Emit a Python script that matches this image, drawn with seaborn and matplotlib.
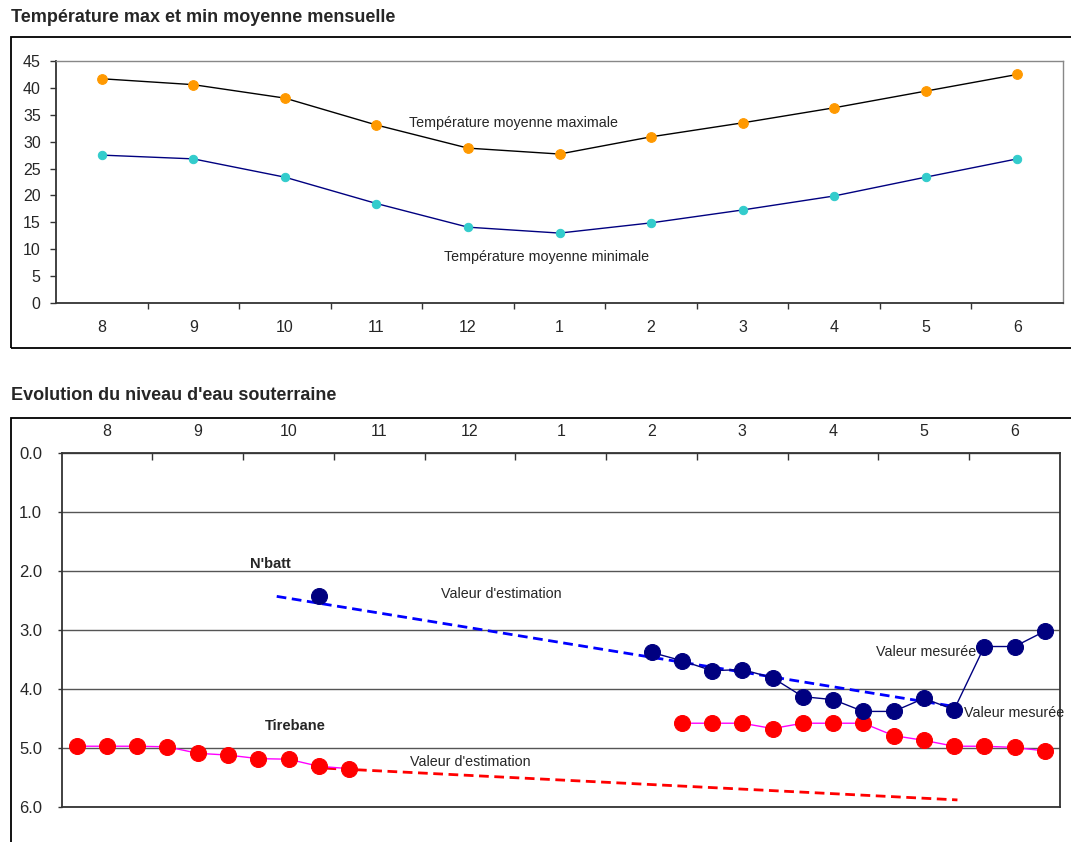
import matplotlib
matplotlib.use("Agg")
import matplotlib.pyplot as plt
from matplotlib.patches import Rectangle
from matplotlib.ticker import FixedLocator, NullFormatter
import numpy as np
import pandas as pd
import seaborn as sns

# ---- data -------------------------------------------------------------
months = ["8", "9", "10", "11", "12", "1", "2", "3", "4", "5", "6"]
temp_max = [41.7, 40.6, 38.1, 33.1, 28.8, 27.7, 30.9, 33.5, 36.3, 39.4, 42.5]
temp_min = [27.5, 26.8, 23.4, 18.5, 14.1, 13.0, 14.9, 17.3, 19.9, 23.4, 26.8]

# groundwater depth (m), sampled every dekad (index 0 = first dekad of month 8)
tirebane_dekad_a = [0, 1, 2, 3, 4, 5, 6, 7, 8, 9]
tirebane_level_a = [4.97, 4.97, 4.97, 4.98, 5.09, 5.12, 5.18, 5.19, 5.31, 5.35]
tirebane_dekad_b = [20, 21, 22, 23, 24, 25, 26, 27, 28, 29, 30, 31, 32]
tirebane_level_b = [4.58, 4.58, 4.58, 4.67, 4.58, 4.58, 4.58, 4.79, 4.87,
                    4.97, 4.97, 4.99, 5.05]

nbatt_dekad_a = [8]
nbatt_level_a = [2.43]
nbatt_dekad_b = [19, 20, 21, 22, 23, 24, 25, 26, 27, 28, 29, 30, 31, 32]
nbatt_level_b = [3.38, 3.52, 3.69, 3.67, 3.81, 4.13, 4.18, 4.38, 4.38,
                 4.16, 4.35, 3.28, 3.28, 3.02]

# estimated trends (month position, depth)
nbatt_est_x = [2.37, 9.85]
nbatt_est_y = [2.43, 4.30]
tirebane_est_x = [2.75, 9.87]
tirebane_est_y = [5.33, 5.88]

depth_ticks = [0.0, 1.0, 2.0, 3.0, 4.0, 5.0, 6.0]

# ---- style -------------------------------------------------------------
sns.set_style("white")
plt.rcParams["font.family"] = ["Liberation Sans Narrow", "Liberation Sans", "DejaVu Sans"]
plt.rcParams["axes.unicode_minus"] = False

W, H = 1071, 842
fig = plt.figure(figsize=(W / 100, H / 100), dpi=100)


def fx(px):
    return px / W


def fy(py):
    return 1 - py / H


# outer frames
fig.patches.append(Rectangle((fx(11), fy(348)), fx(1080 - 11), fy(37) - fy(348),
                             transform=fig.transFigure, fill=False,
                             edgecolor="black", linewidth=1.3))
fig.patches.append(Rectangle((fx(11), fy(860)), fx(1080 - 11), fy(418) - fy(860),
                             transform=fig.transFigure, fill=False,
                             edgecolor="black", linewidth=1.3))

fig.text(fx(11), fy(18), "Température max et min moyenne mensuelle",
         fontsize=13, fontweight="bold", va="center", ha="left")
fig.text(fx(11), fy(396), "Evolution du niveau d'eau souterraine",
         fontsize=13, fontweight="bold", va="center", ha="left")

# ---- temperature panel -------------------------------------------------
ax1 = fig.add_axes([fx(56), fy(303), fx(1063) - fx(56), fy(61) - fy(303)])
temp_df = pd.DataFrame({"pos": np.arange(len(months)),
                        "tmax": temp_max, "tmin": temp_min})
sns.lineplot(data=temp_df, x="pos", y="tmax", ax=ax1, color="black",
             linewidth=1.0, marker="o", markersize=7,
             markerfacecolor="#FF9900", markeredgecolor="#FF9900")
sns.lineplot(data=temp_df, x="pos", y="tmin", ax=ax1, color="#000080",
             linewidth=1.0, marker="o", markersize=6,
             markerfacecolor="#33CCCC", markeredgecolor="#33CCCC")
ax1.set_xlim(-0.5, len(months) - 0.5)
ax1.set_ylim(0, 45)
ax1.set_yticks(range(0, 46, 5))
ax1.set_xticks(np.arange(len(months)))
ax1.set_xticklabels(months)
ax1.xaxis.set_minor_locator(FixedLocator(np.arange(0.5, len(months) - 1, 1.0)))
ax1.xaxis.set_minor_formatter(NullFormatter())
ax1.tick_params(axis="x", which="major", length=0, pad=12, labelsize=11.5)
ax1.tick_params(axis="x", which="minor", length=4, width=1, direction="out",
                color="#333333", bottom=True)
ax1.tick_params(axis="y", length=4, width=1, direction="out", pad=7,
                labelsize=11.5, color="#333333", left=True)
ax1.set_xlabel("")
ax1.set_ylabel("")
for side in ["top", "right"]:
    ax1.spines[side].set_color("#888888")
    ax1.spines[side].set_linewidth(1.0)
for side in ["left", "bottom"]:
    ax1.spines[side].set_color("#333333")
    ax1.spines[side].set_linewidth(1.3)
ax1.text(4.5, 33.4, "Température moyenne maximale", fontsize=10.3,
         ha="center", va="center")
ax1.text(4.86, 8.5, "Température moyenne minimale", fontsize=10.3,
         ha="center", va="center")

# ---- groundwater panel -------------------------------------------------
ax2 = fig.add_axes([fx(61.6), fy(807), fx(1060) - fx(61.6), fy(453) - fy(807)])


def dekad_pos(d):
    return (np.asarray(d) + 0.5) / 3.0


ax2.set_axisbelow(True)
ax2.yaxis.grid(True, color="#555555", linewidth=1.0)

sns.lineplot(x=tirebane_est_x, y=tirebane_est_y, ax=ax2, color="#FF0000",
             linewidth=2.0, linestyle=(0, (3.5, 2)))
sns.lineplot(x=nbatt_est_x, y=nbatt_est_y, ax=ax2, color="#0000FF",
             linewidth=2.0, linestyle=(0, (3.5, 2)))

for d, v in [(tirebane_dekad_a, tirebane_level_a), (tirebane_dekad_b, tirebane_level_b)]:
    sns.lineplot(x=dekad_pos(d), y=v, ax=ax2, color="#FF00FF", linewidth=1.0,
                 marker="o", markersize=11.5, markerfacecolor="#FF0000",
                 markeredgecolor="#FF0000")
for d, v in [(nbatt_dekad_a, nbatt_level_a), (nbatt_dekad_b, nbatt_level_b)]:
    sns.lineplot(x=dekad_pos(d), y=v, ax=ax2, color="#000080", linewidth=1.0,
                 marker="o", markersize=11.5, markerfacecolor="#000080",
                 markeredgecolor="#000080")

ax2.set_xlim(0, len(months))
ax2.set_ylim(6.0, 0.0)
ax2.set_yticks(depth_ticks)
ax2.set_yticklabels([f"{t:.1f}" for t in depth_ticks])
ax2.xaxis.tick_top()
ax2.set_xticks(np.arange(len(months)) + 0.5)
ax2.set_xticklabels(months)
ax2.xaxis.set_minor_locator(FixedLocator(np.arange(1, len(months))))
ax2.xaxis.set_minor_formatter(NullFormatter())
ax2.tick_params(axis="x", which="major", length=0, pad=10, labelsize=11.5,
                top=True, bottom=False)
ax2.tick_params(axis="x", which="minor", length=5, width=1, direction="in",
                color="#333333", top=True, bottom=False)
ax2.tick_params(axis="y", length=3, width=1, direction="out", pad=11,
                labelsize=12, color="#333333", left=True)
ax2.set_xlabel("")
ax2.set_ylabel("")
for side in ["top", "right", "left", "bottom"]:
    ax2.spines[side].set_color("#333333")
    ax2.spines[side].set_linewidth(1.3)

ax2.text(2.30, 1.88, "N'batt", fontsize=10.5, fontweight="bold",
         ha="center", va="center")
ax2.text(4.85, 2.39, "Valeur d'estimation", fontsize=10.3, ha="center", va="center")
ax2.text(2.57, 4.62, "Tirebane", fontsize=10.5, fontweight="bold",
         ha="center", va="center")
ax2.text(4.50, 5.23, "Valeur d'estimation", fontsize=10.3, ha="center", va="center")
ax2.text(10.08, 3.38, "Valeur mesurée", fontsize=10.3, ha="right", va="center")
ax2.text(9.94, 4.41, "Valeur mesurée", fontsize=10.3, ha="left", va="center")

fig.savefig("out.png", dpi=100)
